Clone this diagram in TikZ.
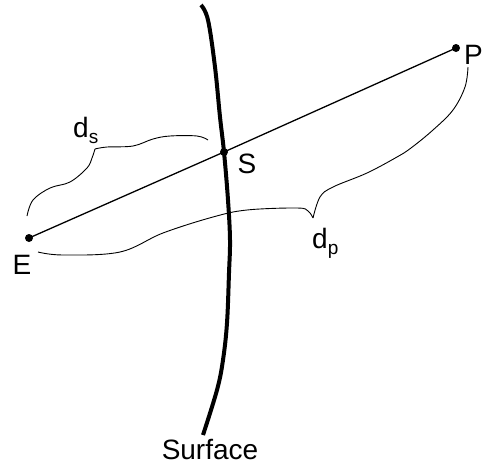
\documentclass[tikz,border=0pt]{standalone}
\usepackage{fontspec}
\setmainfont{Liberation Sans}
\begin{document}
\begin{tikzpicture}[x=1pt,y=-1pt,
  dot/.style={circle,fill=black,inner sep=0pt,minimum size=8pt},
  lbl/.style={inner sep=0pt,font=\fontsize{28}{28}\selectfont},
  bracecurve/.style={line width=0.9pt},
  surfacecurve/.style={line width=4pt},
  ray/.style={line width=1.3pt}]
\useasboundingbox (0,0) rectangle (483,469);
\node[dot] (E) at (29,238) {};
\node[dot] (S) at (224,152) {};
\node[dot] (P) at (456,48) {};
\draw[ray] (E.center) -- (S.center) -- (P.center);
\draw[surfacecurve] plot[smooth,tension=0.6] coordinates {(201,5) (208,20) (215,67) (220,117) (224,152) (228,200) (230,240) (229,273) (227,323) (223,360) (217,390) (203,435)};
\node[lbl] (Elbl) at (22,265) {E};
\node[lbl,anchor=west] (Plbl) at (464,55) {P};
\node[lbl] (Slbl) at (247,164) {S};
\node[lbl] (Surf) at (210,450) {Surface};
% d_s brace
\draw[bracecurve] plot[smooth,tension=0.6] coordinates {(27,216) (33,200) (50,188) (70,182) (87,168) (92,158) (95,149)};
\draw[bracecurve] plot[smooth,tension=0.6] coordinates {(95,149) (107,147) (133,146) (153,139) (170,136) (197,136) (208,140)};
% d_p brace
\draw[bracecurve] plot[smooth,tension=0.6] coordinates {(38,252) (63,255) (120,252) (163,233) (213,217) (247,210) (297,208) (308,211) (313,218)};
\draw[bracecurve] plot[smooth,tension=0.6] coordinates {(313,218) (320,197) (333,187) (367,173) (397,157) (411,148) (433,130) (453,110) (465,87) (468,67)};
\node[lbl,anchor=base west] (ds) at (73,137) {d\raisebox{-0.22em}{\fontsize{19}{19}\selectfont s}};
\node[lbl,anchor=base west] (dp) at (312,248) {d\raisebox{-0.22em}{\fontsize{19}{19}\selectfont p}};
\end{tikzpicture}
\end{document}
